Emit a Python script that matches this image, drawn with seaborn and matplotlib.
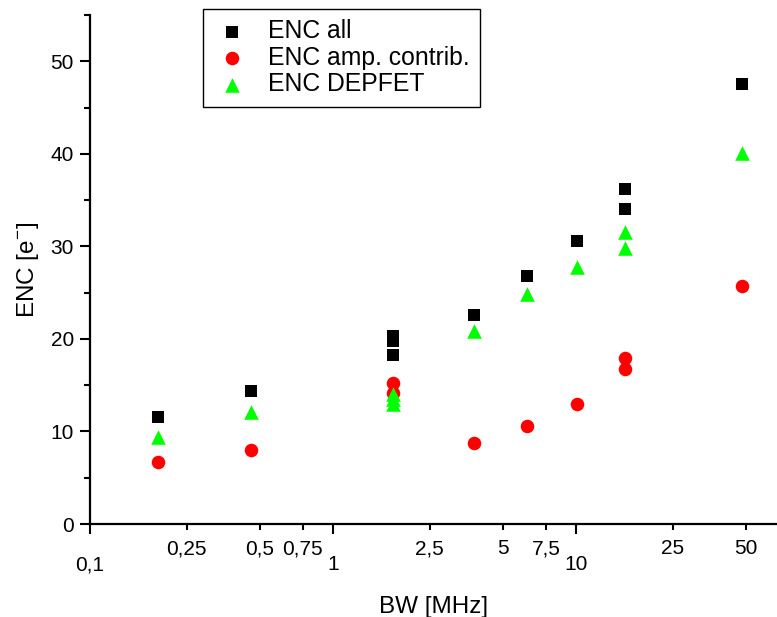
import matplotlib
matplotlib.use("Agg")
import matplotlib.pyplot as plt
import matplotlib.ticker as mticker
import seaborn as sns
import pandas as pd

# Data
bw_all = [0.19, 0.46, 1.77, 1.77, 1.77, 3.8, 6.3, 10.1, 15.9, 15.9, 48]
enc_all = [11.6, 14.4, 20.3, 19.8, 18.3, 22.6, 26.8, 30.6, 36.2, 34.0, 47.5]

bw_amp = [0.19, 0.46, 1.77, 1.77, 3.8, 6.3, 10.1, 15.9, 15.9, 48]
enc_amp = [6.7, 8.0, 15.2, 14.2, 8.8, 10.6, 13.0, 17.9, 16.7, 25.7]

bw_dep = [0.19, 0.46, 1.77, 1.77, 1.77, 3.8, 6.3, 10.1, 15.9, 15.9, 48]
enc_dep = [9.4, 12.1, 14.0, 13.5, 13.0, 20.9, 24.8, 27.8, 31.6, 29.8, 40.1]

series_names = ["ENC all", "ENC amp. contrib.", "ENC DEPFET"]

major_x = [0.1, 1, 10]
major_x_labels = ["0,1", "1", "10"]
minor_x = [0.25, 0.5, 0.75, 2.5, 5, 7.5, 25, 50]
minor_x_labels = ["0,25", "0,5", "0,75", "2,5", "5", "7,5", "25", "50"]

sns.set_style("ticks", {"axes.edgecolor": "black", "text.color": "black",
                        "xtick.color": "black", "ytick.color": "black",
                        "axes.labelcolor": "black"})
plt.rcParams["font.family"] = ["Liberation Sans", "DejaVu Sans"]
plt.rcParams["mathtext.fontset"] = "custom"
plt.rcParams["mathtext.rm"] = "Liberation Sans"

fig = plt.figure(figsize=(7.77, 6.17), dpi=100)
ax = fig.add_axes([90/777, 1-524/617, 1-90/777, (524-15)/617])

df_all = pd.DataFrame({"BW": bw_all, "ENC": enc_all})
df_amp = pd.DataFrame({"BW": bw_amp, "ENC": enc_amp})
df_dep = pd.DataFrame({"BW": bw_dep, "ENC": enc_dep})

sns.scatterplot(data=df_all, x="BW", y="ENC", marker="s", color="black",
                s=72, linewidth=0, label=series_names[0], ax=ax, zorder=3)
sns.scatterplot(data=df_amp, x="BW", y="ENC", marker="o", color="#ff0000",
                s=95, linewidth=0, label=series_names[1], ax=ax, zorder=3)
sns.scatterplot(data=df_dep, x="BW", y="ENC", marker="^", color="#00ff00",
                s=110, linewidth=0, label=series_names[2], ax=ax, zorder=4)

ax.set_xscale("log")
ax.set_xlim(0.1, 67)
ax.set_ylim(0, 55)

ax.xaxis.set_major_locator(mticker.FixedLocator(major_x))
ax.xaxis.set_major_formatter(mticker.FixedFormatter(major_x_labels))
ax.xaxis.set_minor_locator(mticker.FixedLocator(minor_x))
ax.xaxis.set_minor_formatter(mticker.FixedFormatter(minor_x_labels))

ax.yaxis.set_major_locator(mticker.MultipleLocator(10))
ax.yaxis.set_minor_locator(mticker.MultipleLocator(5))

ax.tick_params(axis="x", which="major", length=7.5, width=1.5, pad=15,
               labelsize=15, direction="out", colors="black")
ax.tick_params(axis="x", which="minor", length=4, width=1.5, pad=7,
               labelsize=15, direction="out", colors="black")
ax.tick_params(axis="y", which="major", length=7.5, width=1.5, pad=4,
               labelsize=15, direction="out", colors="black")
ax.tick_params(axis="y", which="minor", length=4, width=1.5, direction="out",
               colors="black")

for side in ["top", "right"]:
    ax.spines[side].set_visible(False)
for side in ["left", "bottom"]:
    ax.spines[side].set_linewidth(1.6)
    ax.spines[side].set_color("black")

ax.set_xlabel("BW [MHz]", fontsize=17.5, labelpad=16, color="black")
ax.set_ylabel(r"ENC [e$^{\mathregular{-}}$]", fontsize=17.5, labelpad=7,
              color="black")

leg = ax.legend(loc="upper left", bbox_to_anchor=(203/777, 1-9/617),
                bbox_transform=fig.transFigure, fontsize=17.8, frameon=True,
                fancybox=False, edgecolor="black", framealpha=1,
                handletextpad=0.7, labelspacing=0.1, borderpad=0.42,
                handlelength=1.5, borderaxespad=0)
leg.get_frame().set_linewidth(1.0)
for t in leg.get_texts():
    t.set_color("black")

fig.savefig("out.png", dpi=100)
